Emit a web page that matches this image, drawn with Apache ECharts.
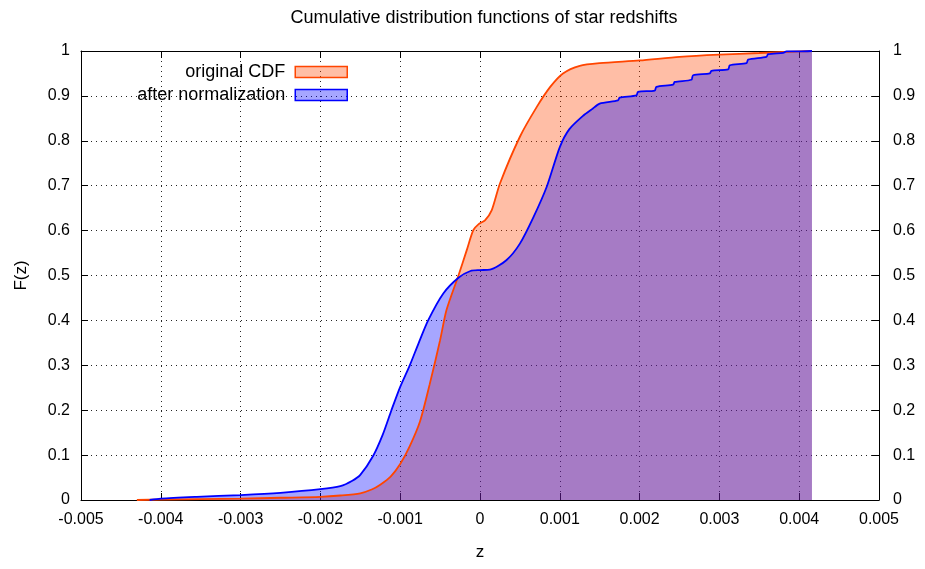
<!DOCTYPE html>
<html>
<head>
<meta charset="utf-8">
<script src="https://cdn.jsdelivr.net/npm/echarts@6/dist/echarts.min.js"></script>
<style>
  html, body { margin: 0; padding: 0; background: #fff; }
</style>
</head>
<body>
<div id="chart" style="width: 925px; height: 569px;"></div>
<script>
// original CDF
var zOrig = [-0.0043, -0.0040, -0.0030, -0.0025, -0.0020, -0.00175, -0.0015, -0.00135, -0.00125, -0.00112,
  -0.0010, -0.00088, -0.00075, -0.00063, -0.0005, -0.00042, -0.00027, -0.000167, -0.000084, -0.00002,
  0.0000625, 0.000146, 0.00025, 0.0005, 0.00071, 0.00088, 0.00104, 0.00125, 0.0015, 0.002,
  0.0025, 0.003, 0.0035, 0.004, 0.00416];
var fOrig = [0.0, 0.001, 0.003, 0.005, 0.007, 0.010, 0.015, 0.024, 0.034, 0.052,
  0.080, 0.120, 0.176, 0.258, 0.356, 0.423, 0.500, 0.556, 0.601, 0.614,
  0.623, 0.645, 0.705, 0.809, 0.875, 0.920, 0.950, 0.967, 0.973, 0.979,
  0.987, 0.992, 0.9955, 0.999, 1.0];

// after normalization
var zNorm = [-0.00414, -0.0040, -0.00355, -0.0030, -0.0025, -0.0020, -0.00175, -0.0016, -0.0015, -0.00134,
  -0.00122, -0.00111, -0.0010, -0.00088, -0.00077, -0.00065, -0.00046, -0.00027, -0.00012, 0.0,
  0.000125, 0.00033, 0.0005, 0.00067, 0.000835, 0.001, 0.00112, 0.0013, 0.0014, 0.0015,
  0.00173, 0.00175, 0.00196, 0.00198, 0.00219, 0.00221, 0.00242, 0.00244, 0.00265, 0.00267,
  0.00288, 0.0029, 0.00311, 0.00313, 0.00334, 0.00336, 0.00359, 0.00361, 0.0038, 0.00384,
  0.004, 0.00416];
var fNorm = [0.0, 0.003, 0.007, 0.011, 0.016, 0.024, 0.031, 0.043, 0.056, 0.098,
  0.145, 0.200, 0.252, 0.300, 0.349, 0.400, 0.460, 0.495, 0.510, 0.512,
  0.513, 0.534, 0.571, 0.630, 0.697, 0.786, 0.826, 0.857, 0.870, 0.883,
  0.890, 0.896, 0.901, 0.909, 0.912, 0.920, 0.925, 0.931, 0.936, 0.946,
  0.950, 0.956, 0.959, 0.968, 0.973, 0.981, 0.987, 0.993, 0.996, 0.999,
  0.999, 1.0];

var xTicks = [-0.005, 0.005, 0.001];
var yTicks = [0, 1, 0.1];

var FONT = 'Liberation Sans';

function pairs(xs, ys) {
  return xs.map(function (x, i) { return [x, ys[i]]; });
}

function xLabel(v) {
  var r = Math.round(v * 1e6) / 1e6;
  return r === 0 ? '0' : r.toFixed(3);
}
function yLabel(v) {
  return String(Math.round(v * 10) / 10);
}

var chart = echarts.init(document.getElementById('chart'));

var gridLine = { show: true, lineStyle: { color: '#000', type: [1, 4], width: 1, opacity: 0.85 } };
var tick = { show: true, inside: true, length: 7, lineStyle: { color: '#000' } };

var option = {
  animation: false,
  backgroundColor: '#fff',
  textStyle: { fontFamily: FONT },
  title: {
    text: 'Cumulative distribution functions of star redshifts',
    left: 479, top: 4, textAlign: 'center',
    textStyle: { fontFamily: FONT, fontSize: 18, fontWeight: 'normal', color: '#000' }
  },
  legend: [
    {
      right: 572, top: 58, align: 'right', icon: 'rect',
      itemWidth: 52, itemHeight: 11,
      textStyle: { fontFamily: FONT, fontSize: 18, color: '#000', padding: [0, 5, 0, 0] },
      data: [{ name: 'original CDF', itemStyle: { color: 'rgba(255,69,0,0.35)', borderColor: '#ff4500', borderWidth: 1.5 } }]
    },
    {
      right: 572, top: 81, align: 'right', icon: 'rect',
      itemWidth: 52, itemHeight: 11,
      textStyle: { fontFamily: FONT, fontSize: 18, color: '#000', padding: [0, 5, 0, 0] },
      data: [{ name: 'after normalization', itemStyle: { color: 'rgba(0,0,255,0.35)', borderColor: '#0000ff', borderWidth: 1.5 } }]
    }
  ],
  grid: { left: 81, right: 46, top: 51, bottom: 69 },
  xAxis: [
    {
      type: 'value', position: 'bottom',
      min: xTicks[0], max: xTicks[1], interval: xTicks[2],
      name: 'z', nameLocation: 'middle', nameGap: 44,
      nameTextStyle: { fontFamily: FONT, fontSize: 17, color: '#000' },
      axisLine: { show: true, onZero: false, lineStyle: { color: '#000', width: 1 } },
      axisTick: tick,
      axisLabel: { formatter: xLabel, margin: 12, fontSize: 16, color: '#000', fontFamily: FONT },
      splitLine: gridLine
    },
    {
      type: 'value', position: 'top',
      min: xTicks[0], max: xTicks[1], interval: xTicks[2],
      axisLine: { show: true, onZero: false, lineStyle: { color: '#000', width: 1 } },
      axisTick: tick,
      axisLabel: { show: false },
      splitLine: { show: false }
    }
  ],
  yAxis: [
    {
      type: 'value', position: 'left',
      min: yTicks[0], max: yTicks[1], interval: yTicks[2],
      name: 'F(z)', nameLocation: 'middle', nameGap: 51,
      nameTextStyle: { fontFamily: FONT, fontSize: 17, color: '#000' },
      axisLine: { show: true, onZero: false, lineStyle: { color: '#000', width: 1 } },
      axisTick: tick,
      axisLabel: { formatter: yLabel, margin: 11, fontSize: 16, color: '#000', fontFamily: FONT },
      splitLine: gridLine
    },
    {
      type: 'value', position: 'right',
      min: yTicks[0], max: yTicks[1], interval: yTicks[2],
      axisLine: { show: true, onZero: false, lineStyle: { color: '#000', width: 1 } },
      axisTick: tick,
      axisLabel: { formatter: yLabel, margin: 14, fontSize: 16, color: '#000', fontFamily: FONT },
      splitLine: { show: false }
    }
  ],
  series: [
    {
      name: 'original CDF', type: 'line',
      data: pairs(zOrig, fOrig),
      showSymbol: false, symbol: 'none',
      smooth: 0.25,
      lineStyle: { color: '#ff4500', width: 1.8 },
      itemStyle: { color: '#ff4500' },
      areaStyle: { color: 'rgba(255,69,0,0.35)', opacity: 1, origin: 'start' }
    },
    {
      name: 'after normalization', type: 'line',
      data: pairs(zNorm, fNorm),
      showSymbol: false, symbol: 'none',
      smooth: 0.25,
      lineStyle: { color: '#0000ff', width: 1.8 },
      itemStyle: { color: '#0000ff' },
      areaStyle: { color: 'rgba(0,0,255,0.35)', opacity: 1, origin: 'start' }
    }
  ]
};

chart.setOption(option);
</script>
</body>
</html>
